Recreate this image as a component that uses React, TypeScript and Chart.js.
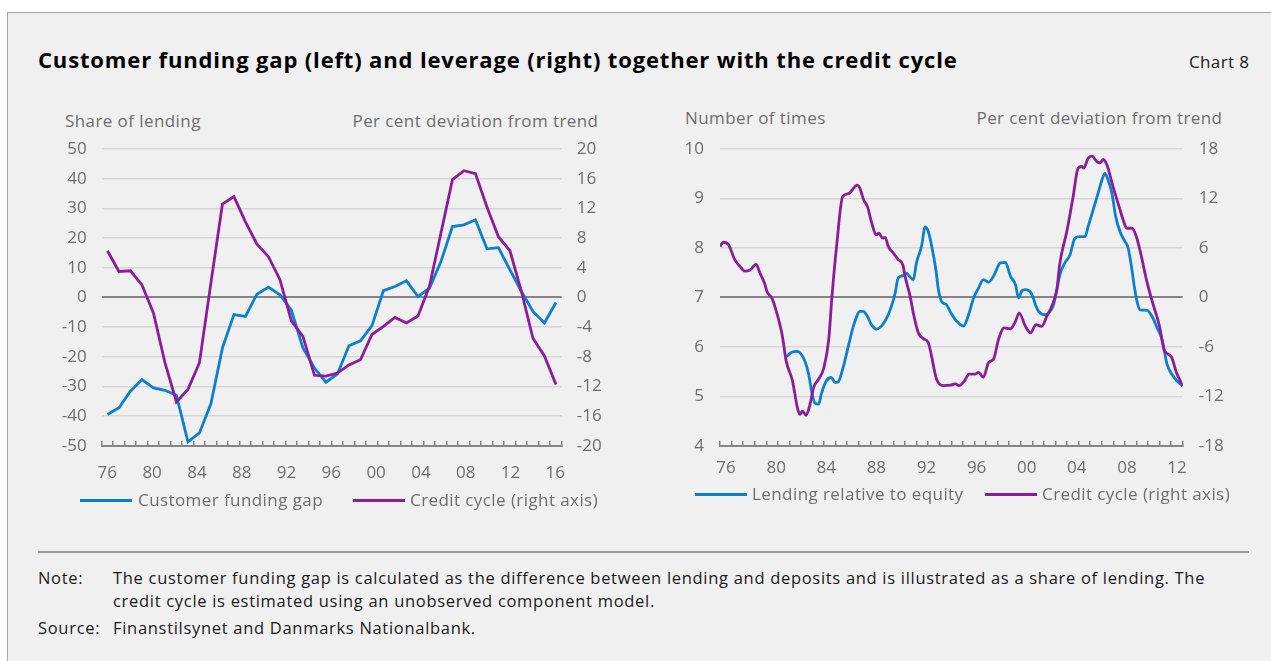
import React, { useEffect, useRef } from 'react';
import { Chart, registerables } from 'chart.js';

Chart.register(...registerables);

const FONT_FAMILY = "'Open Sans', 'Noto Sans', 'DejaVu Sans', sans-serif";
const BLUE = '#0b80d3';
const PURPLE = '#8c1c9c';
const TICK_GREY = '#6e6e6e';
const GRID_LIGHT = '#d6d6d6';
const GRID_DARK = '#858585';

// ---------- Left chart: customer funding gap (annual) ----------
const gapYears = [
  1976, 1977, 1978, 1979, 1980, 1981, 1982, 1983, 1984, 1985,
  1986, 1987, 1988, 1989, 1990, 1991, 1992, 1993, 1994, 1995,
  1996, 1997, 1998, 1999, 2000, 2001, 2002, 2003, 2004, 2005,
  2006, 2007, 2008, 2009, 2010, 2011, 2012, 2013, 2014, 2015,
];
const fundingGap = [
  -39.5, -37.2, -31.6, -27.7, -30.5, -31.3, -33.0, -48.7, -45.7, -35.8,
  -17.0, -5.8, -6.4, 1.1, 3.5, 0.9, -4.4, -17.0, -23.8, -28.6,
  -25.8, -16.3, -14.6, -9.5, 2.3, 3.7, 5.6, 0.3, 3.1, 12.1,
  23.9, 24.5, 26.2, 16.4, 16.8, 9.3, 2.0, -4.7, -8.6, -1.7,
];
const creditCycleAnnual = [
  6.3, 3.5, 3.6, 1.7, -2.1, -8.8, -14.1, -12.4, -8.8, 2.0,
  12.6, 13.6, 10.2, 7.2, 5.5, 2.4, -3.2, -5.25, -10.5, -10.6,
  -10.2, -9.1, -8.4, -5.0, -3.9, -2.7, -3.45, -2.5, 1.5, 8.7,
  15.9, 17.1, 16.7, 12.2, 8.2, 6.3, 0.8, -5.5, -7.9, -11.75,
];
const gapTickYears = [1976, 1980, 1984, 1988, 1992, 1996, 2000, 2004, 2008, 2012, 2016];

// ---------- Right chart: leverage ----------
const leverageYears = [
  1980.8, 1981.25, 1981.65, 1981.95, 1982.3, 1982.6, 1982.85, 1983.1, 1983.4, 1983.6,
  1984.0, 1984.4, 1984.7, 1984.95, 1985.3, 1985.8, 1986.2, 1986.7, 1986.95, 1987.3,
  1987.6, 1988.0, 1988.4, 1988.8, 1989.2, 1989.5, 1989.75, 1990.15, 1990.4, 1990.7,
  1990.95, 1991.2, 1991.6, 1991.9, 1992.15, 1992.4, 1992.75, 1992.95, 1993.2, 1993.6,
  1993.95, 1994.3, 1994.7, 1994.95, 1995.35, 1995.75, 1996.15, 1996.55, 1996.95, 1997.35,
  1997.9, 1998.3, 1998.7, 1999.1, 1999.35, 1999.6, 1999.9, 2000.3, 2000.55, 2000.7,
  2000.95, 2001.5, 2001.75, 2002.1, 2002.4, 2002.65, 2003.05, 2003.45, 2003.85, 2004.25,
  2004.65, 2004.9, 2005.3, 2005.7, 2006.05, 2006.25, 2006.5, 2006.8, 2007.1, 2007.45,
  2007.85, 2008.1, 2008.4, 2008.6, 2008.8, 2009.05, 2009.6, 2010.0, 2010.4, 2010.8,
  2011.2, 2011.6, 2012.0, 2012.45,
];
const leverage = [
  5.8, 5.89, 5.91, 5.87, 5.71, 5.44, 5.07, 4.86, 4.84, 5.04,
  5.31, 5.38, 5.28, 5.29, 5.54, 6.05, 6.45, 6.72, 6.72, 6.61,
  6.45, 6.36, 6.42, 6.57, 6.82, 7.09, 7.4, 7.44, 7.49, 7.41,
  7.36, 7.7, 8.03, 8.43, 8.33, 8.06, 7.56, 7.16, 6.92, 6.85,
  6.69, 6.55, 6.45, 6.42, 6.64, 6.98, 7.19, 7.36, 7.31, 7.43,
  7.7, 7.71, 7.43, 7.26, 6.99, 7.13, 7.16, 7.11, 6.97, 6.85,
  6.72, 6.65, 6.69, 6.82, 7.14, 7.46, 7.7, 7.86, 8.2, 8.23,
  8.23, 8.43, 8.77, 9.11, 9.41, 9.51, 9.37, 9.11, 8.64, 8.33,
  8.13, 8.0, 7.56, 7.2, 6.92, 6.75, 6.74, 6.62, 6.39, 6.15,
  5.65, 5.44, 5.31, 5.21,
];
const cycleYears = [
  1975.52, 1975.8, 1976.2, 1976.7, 1977.1, 1977.5, 1977.9, 1978.4, 1978.7, 1979.1,
  1979.3, 1979.65, 1980.06, 1980.5, 1980.8, 1981.3, 1981.7, 1981.9, 1982.1, 1982.4,
  1982.7, 1983.0, 1983.4, 1983.8, 1984.2, 1984.45, 1984.85, 1985.3, 1985.8, 1986.1,
  1986.45, 1986.65, 1987.0, 1987.3, 1987.6, 1988.0, 1988.2, 1988.5, 1988.7, 1988.95,
  1989.4, 1989.75, 1990.1, 1990.35, 1990.7, 1990.95, 1991.35, 1991.75, 1992.15, 1992.4,
  1992.8, 1993.35, 1993.9, 1994.3, 1994.6, 1995.0, 1995.4, 1995.9, 1996.15, 1996.55,
  1996.95, 1997.35, 1997.75, 1998.2, 1998.7, 1999.1, 1999.4, 1999.9, 2000.3, 2000.75,
  2001.2, 2001.6, 2002.0, 2002.4, 2002.65, 2003.2, 2003.7, 2004.1, 2004.4, 2004.55,
  2004.9, 2005.2, 2005.6, 2005.85, 2006.1, 2006.4, 2006.9, 2007.3, 2007.7, 2008.0,
  2008.4, 2008.75, 2009.15, 2009.55, 2010.0, 2010.6, 2010.95, 2011.3, 2011.55, 2011.95,
  2012.45,
];
const creditCycle = [
  6.2, 6.7, 6.4, 4.6, 3.8, 3.2, 3.3, 4.0, 3.0, 1.6,
  0.6, -0.05, -1.9, -4.7, -7.7, -10.1, -13.4, -14.2, -13.8, -14.3,
  -13.0, -10.9, -9.9, -8.6, -5.1, 0.0, 6.6, 12.2, 12.6, 13.1,
  13.65, 13.4, 11.8, 11.0, 9.2, 7.6, 7.8, 7.2, 7.3, 6.2,
  5.3, 4.6, 4.0, 2.2, 0.1, -1.9, -4.3, -5.0, -5.5, -7.1,
  -9.9, -10.7, -10.65, -10.5, -10.7, -10.2, -9.3, -9.3, -9.1, -9.7,
  -7.9, -7.5, -5.1, -3.7, -3.8, -2.9, -1.9, -3.5, -4.3, -3.3,
  -3.5, -2.3, -1.07, 0.95, 4.2, 8.0, 12.2, 15.7, 15.9, 15.7,
  16.9, 17.15, 16.5, 16.35, 16.75, 16.1, 13.4, 11.4, 9.4, 8.4,
  8.4, 7.4, 5.0, 2.2, -0.4, -3.5, -6.3, -6.9, -7.2, -9.1,
  -10.7,
];
const levTickYears = [1976, 1980, 1984, 1988, 1992, 1996, 2000, 2004, 2008, 2012];
const levTickMarks = [
  0, 1, 2, 3, 4, 5, 6, 7, 8, 9, 10, 11, 12, 13, 14, 15, 16, 17, 18, 19, 20,
  21, 22, 23, 24, 25, 26, 27, 28, 29, 30, 31, 32, 33, 34, 35, 36, 37, 38, 39, 40,
];

const tickFont = { family: FONT_FAMILY, size: 17 };

function gridColor(zeroValue: number) {
  return (c: any) => {
    if (!c.tick) return GRID_LIGHT;
    if (c.index === 0) return 'rgba(0,0,0,0)';
    return c.tick.value === zeroValue ? GRID_DARK : GRID_LIGHT;
  };
}
function gridWidth(zeroValue: number) {
  return (c: any) => (c.tick && c.tick.value === zeroValue ? 2 : 1.5);
}
const yearLabel = (v: any) => String(Math.round(Number(v))).slice(2);

function LeftChart() {
  const ref = useRef<HTMLCanvasElement | null>(null);
  useEffect(() => {
    if (!ref.current) return;
    const chart = new Chart(ref.current, {
      type: 'line',
      data: {
        labels: gapYears.map(String),
        datasets: [
          {
            label: 'Credit cycle (right axis)',
            data: creditCycleAnnual,
            borderColor: PURPLE,
            backgroundColor: PURPLE,
            borderWidth: 2.8,
            pointRadius: 0,
            tension: 0,
            xAxisID: 'xb',
            yAxisID: 'y1',
          },
          {
            label: 'Customer funding gap',
            data: fundingGap,
            borderColor: BLUE,
            backgroundColor: BLUE,
            borderWidth: 2.8,
            pointRadius: 0,
            tension: 0,
            xAxisID: 'xb',
            yAxisID: 'y',
          },
        ],
      },
      options: {
        responsive: false,
        animation: false,
        events: [],
        layout: { padding: 0 },
        plugins: { legend: { display: false }, tooltip: { enabled: false } },
        scales: {
          xb: {
            type: 'category',
            position: 'bottom',
            weight: 0,
            offset: true,
            grid: { offset: true, drawOnChartArea: false, drawTicks: true, tickLength: -5, color: GRID_DARK, lineWidth: 1.5 },
            border: { display: true, color: GRID_DARK, width: 2 },
            ticks: { display: false },
            afterFit: (s: any) => { s.height = 0; },
          },
          x: {
            type: 'linear',
            position: 'bottom',
            weight: 1,
            min: 1975.5,
            max: 2016.57,
            afterBuildTicks: (s: any) => { s.ticks = gapTickYears.map((v) => ({ value: v })); },
            afterFit: (s: any) => { s.height = 38.3; },
            grid: { display: false, drawTicks: false },
            border: { display: false },
            ticks: { padding: 16.8, color: TICK_GREY, font: tickFont, maxRotation: 0, autoSkip: false, callback: yearLabel },
          },
          y: {
            type: 'linear',
            position: 'left',
            min: -50,
            max: 50,
            ticks: { stepSize: 10, padding: 15, color: TICK_GREY, font: tickFont },
            grid: { color: gridColor(0), lineWidth: gridWidth(0), drawTicks: false },
            border: { display: false },
            afterFit: (s: any) => { s.width = 71.7; },
          },
          y1: {
            type: 'linear',
            position: 'right',
            min: -20,
            max: 20,
            ticks: { stepSize: 4, padding: 15, color: TICK_GREY, font: tickFont },
            grid: { drawOnChartArea: false, drawTicks: false },
            border: { display: false },
            afterFit: (s: any) => { s.width = 58.3; },
          },
        },
      } as any,
    });
    return () => chart.destroy();
  }, []);
  return <canvas ref={ref} width={590} height={360} style={{ position: 'absolute', left: 30, top: 124, width: 590, height: 360 }} />;
}

function RightChart() {
  const ref = useRef<HTMLCanvasElement | null>(null);
  useEffect(() => {
    if (!ref.current) return;
    const chart = new Chart(ref.current, {
      type: 'line',
      data: {
        datasets: [
          {
            label: 'Credit cycle (right axis)',
            data: cycleYears.map((x, i) => ({ x, y: creditCycle[i] })),
            borderColor: PURPLE,
            backgroundColor: PURPLE,
            borderWidth: 2.8,
            pointRadius: 0,
            cubicInterpolationMode: 'monotone',
            xAxisID: 'x',
            yAxisID: 'y1',
          },
          {
            label: 'Lending relative to equity',
            data: leverageYears.map((x, i) => ({ x, y: leverage[i] })),
            borderColor: BLUE,
            backgroundColor: BLUE,
            borderWidth: 2.8,
            pointRadius: 0,
            cubicInterpolationMode: 'monotone',
            xAxisID: 'x',
            yAxisID: 'y',
          },
        ],
      },
      options: {
        responsive: false,
        animation: false,
        events: [],
        layout: { padding: 0 },
        plugins: { legend: { display: false }, tooltip: { enabled: false } },
        scales: {
          xb: {
            type: 'linear',
            position: 'bottom',
            weight: 0,
            min: 0,
            max: 40,
            afterBuildTicks: (s: any) => { s.ticks = levTickMarks.map((v) => ({ value: v })); },
            grid: { drawOnChartArea: false, drawTicks: true, tickLength: -5, color: GRID_DARK, lineWidth: 1.5 },
            border: { display: true, color: GRID_DARK, width: 2 },
            ticks: { display: false },
            afterFit: (s: any) => { s.height = 0; },
          },
          x: {
            type: 'linear',
            position: 'bottom',
            weight: 1,
            min: 1975.52,
            max: 2012.45,
            afterBuildTicks: (s: any) => { s.ticks = levTickYears.map((v) => ({ value: v })); },
            afterFit: (s: any) => { s.height = 38.3; },
            grid: { display: false, drawTicks: false },
            border: { display: false },
            ticks: { padding: 12.4, color: TICK_GREY, font: tickFont, maxRotation: 0, autoSkip: false, callback: yearLabel },
          },
          y: {
            type: 'linear',
            position: 'left',
            min: 4,
            max: 10,
            ticks: { stepSize: 1, padding: 16, color: TICK_GREY, font: tickFont },
            grid: { color: gridColor(7), lineWidth: gridWidth(7), drawTicks: false },
            border: { display: false },
            afterFit: (s: any) => { s.width = 50; },
          },
          y1: {
            type: 'linear',
            position: 'right',
            min: -18,
            max: 18,
            ticks: { stepSize: 6, padding: 16, color: TICK_GREY, font: tickFont },
            grid: { drawOnChartArea: false, drawTicks: false },
            border: { display: false },
            afterFit: (s: any) => { s.width = 67.3; },
          },
        },
      } as any,
    });
    return () => chart.destroy();
  }, []);
  return <canvas ref={ref} width={580} height={361} style={{ position: 'absolute', left: 670, top: 123, width: 580, height: 361 }} />;
}

function Txt(props: {
  x: number; y: number; end?: boolean; size?: number; color?: string; bold?: boolean; ls?: number; children: React.ReactNode;
}) {
  const { x, y, end, size = 17, color = TICK_GREY, bold, ls = 0.42, children } = props;
  const style: React.CSSProperties = {
    position: 'absolute',
    top: y - 12,
    lineHeight: '24px',
    height: 24,
    fontSize: size,
    color,
    fontWeight: bold ? 700 : 400,
    letterSpacing: ls,
    whiteSpace: 'nowrap',
    fontFamily: FONT_FAMILY,
  };
  if (end) style.right = 1271 - x - ls;
  else style.left = x;
  return <div style={style}>{children}</div>;
}

function LegendLine(props: { x: number; y: number; w: number; color: string }) {
  return (
    <div style={{ position: 'absolute', left: props.x, top: props.y - 1.5, width: props.w, height: 3, background: props.color }} />
  );
}

const NOTE_SIZE = 16.5;
const NOTE_LS = 0.7;
const NOTE_COLOR = '#1a1a1a';

export default function App() {
  return (
    <div style={{ position: 'absolute', left: 0, top: 0, width: 1271, height: 661, background: '#ffffff', overflow: 'hidden', fontFamily: FONT_FAMILY }}>
      <div style={{ position: 'absolute', left: 7, top: 12, width: 1280, height: 660, background: '#f0f0f0', borderLeft: '1px solid #a8a8a8', borderTop: '1px solid #a8a8a8' }} />

      <Txt x={38} y={59} size={22} color="#000000" bold ls={0.85}>
        Customer funding gap (left) and leverage (right) together with the credit cycle
      </Txt>
      <Txt x={1249} y={62} end size={17} color="#1a1a1a" ls={0.4}>Chart 8</Txt>

      <Txt x={65} y={121}>Share of lending</Txt>
      <Txt x={598} y={121} end>Per cent deviation from trend</Txt>
      <Txt x={685} y={118}>Number of times</Txt>
      <Txt x={1222} y={118} end>Per cent deviation from trend</Txt>

      <LeftChart />
      <RightChart />

      <LegendLine x={80} y={500} w={52} color={BLUE} />
      <Txt x={138} y={500}>Customer funding gap</Txt>
      <LegendLine x={353} y={500} w={52} color={PURPLE} />
      <Txt x={410} y={500}>Credit cycle (right axis)</Txt>

      <LegendLine x={695} y={494} w={52} color={BLUE} />
      <Txt x={752} y={494}>Lending relative to equity</Txt>
      <LegendLine x={985} y={494} w={52} color={PURPLE} />
      <Txt x={1042} y={494}>Credit cycle (right axis)</Txt>

      <div style={{ position: 'absolute', left: 38, top: 551, width: 1211, height: 2, background: '#9a9a9a' }} />

      <Txt x={38} y={578} size={NOTE_SIZE} color={NOTE_COLOR} ls={NOTE_LS}>Note:</Txt>
      <Txt x={113} y={578} size={NOTE_SIZE} color={NOTE_COLOR} ls={NOTE_LS}>
        The customer funding gap is calculated as the difference between lending and deposits and is illustrated as a share of lending. The
      </Txt>
      <Txt x={113} y={601} size={NOTE_SIZE} color={NOTE_COLOR} ls={NOTE_LS}>credit cycle is estimated using an unobserved component model.</Txt>
      <Txt x={38} y={628} size={NOTE_SIZE} color={NOTE_COLOR} ls={NOTE_LS}>Source:</Txt>
      <Txt x={113} y={628} size={NOTE_SIZE} color={NOTE_COLOR} ls={NOTE_LS}>Finanstilsynet and Danmarks Nationalbank.</Txt>
    </div>
  );
}
